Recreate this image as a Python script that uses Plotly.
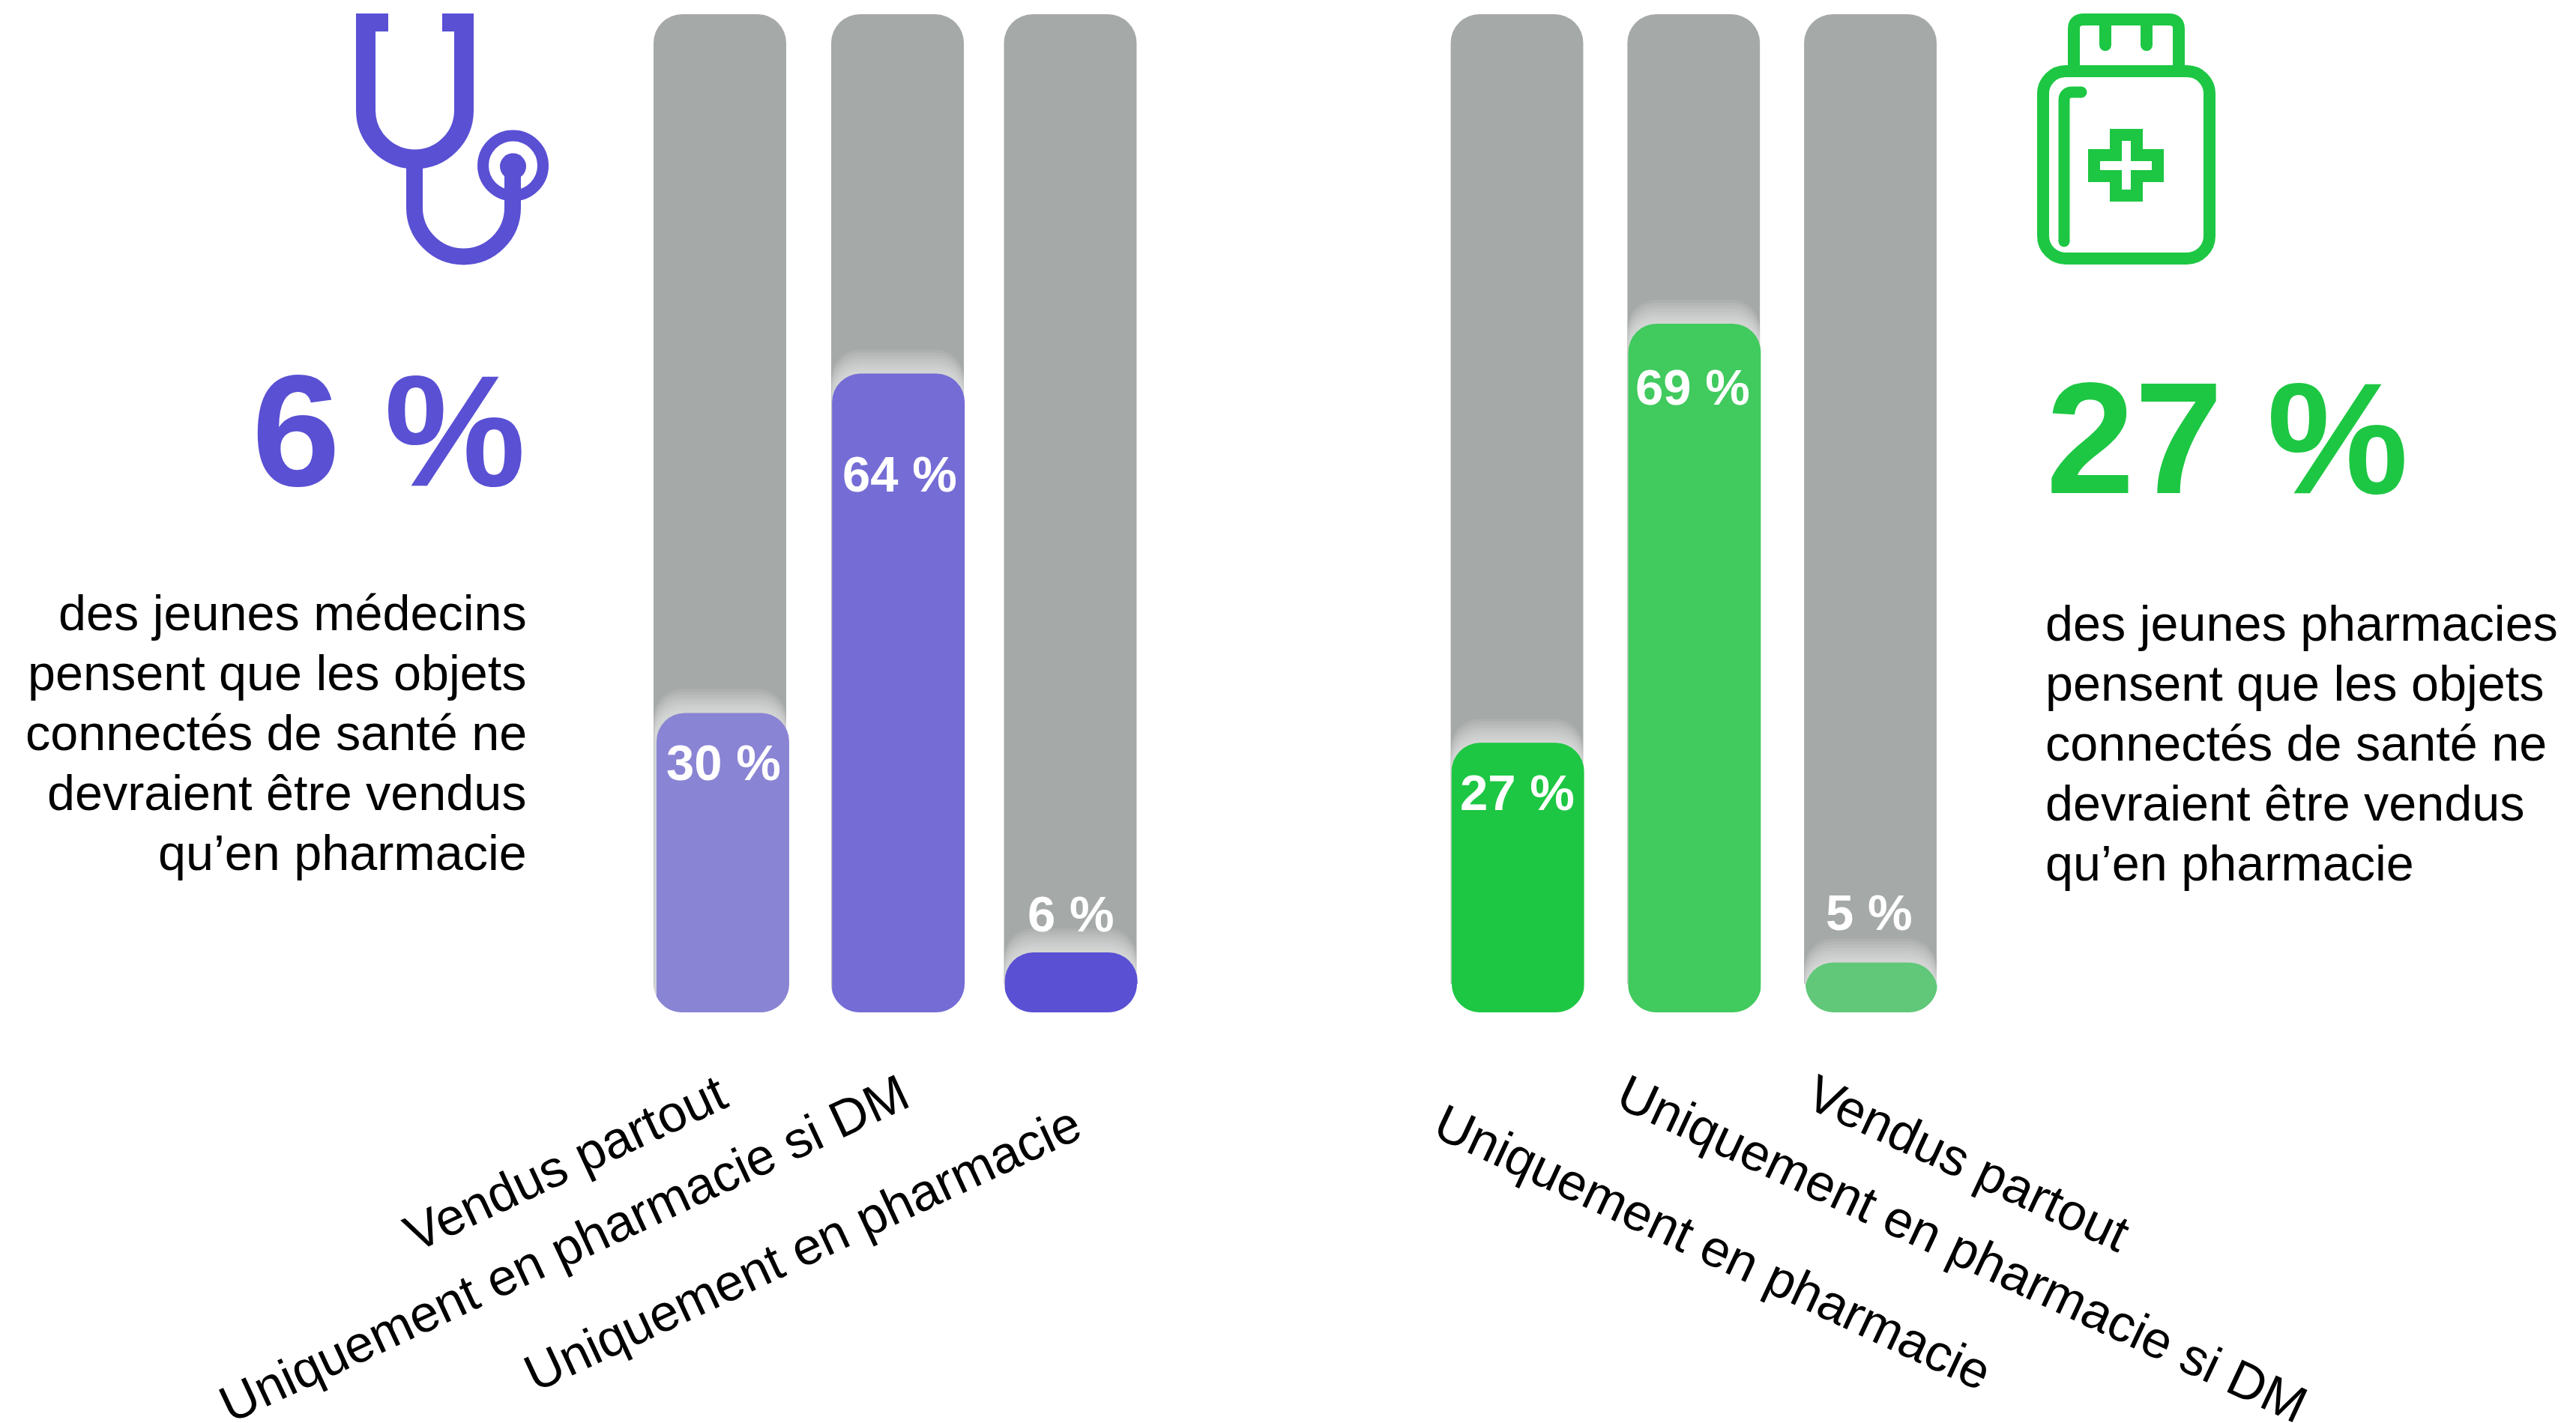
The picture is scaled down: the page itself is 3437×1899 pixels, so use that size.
import plotly.graph_objects as go

W, H = 3437, 1899
categories = ["Vendus partout", "Uniquement en pharmacie si DM", "Uniquement en pharmacie"]
medecins = [30, 64, 6]
pharmaciens = [27, 69, 5]
total = [100, 100, 100]
medecins_colors = ["#8A84D4", "#756DD5", "#5A50D4"]
pharmaciens_colors = ["#1DC743", "#41CA5E", "#60C878"]
GRAY = "#A5A9A7"
PURPLE = "#5A50D4"
GREEN = "#1DC743"
FONT = "Liberation Sans"
left_par = ["des jeunes médecins", "pensent que les objets", "connectés de santé ne", "devraient être vendus", "qu’en pharmacie"]
right_par = ["des jeunes pharmacies", "pensent que les objets", "connectés de santé ne", "devraient être vendus", "qu’en pharmacie"]

Y_TOP, Y_BOT = 19, 1351
RADIUS = 38
def fx(p): return p / W
def fy(p): return 1 - p / H

fig = go.Figure()
PX = 100 / (Y_BOT - Y_TOP)
JIT = 0.0005
for ax, vals, cols, w, off, coff in [
    ("x", medecins, medecins_colors, 0.757, [0, 0.014, 0], [0.012, 0.014, 0.0]),
    ("x2", pharmaciens, pharmaciens_colors, 0.75, [0, 0, 0], [0, 0, 0]),
]:
    fig.add_trace(go.Bar(x=categories, y=total, xaxis=ax, yaxis="y", width=w,
                         offset=[-w / 2 + d for d in off],
                         marker=dict(color=GRAY, cornerradius=RADIUS, line_width=0), hoverinfo="skip"))
    for k, d in enumerate(range(32, 0, -4), start=1):
        fig.add_trace(go.Bar(x=categories, y=[v + d * PX for v in vals], xaxis=ax, yaxis="y", width=w,
                             offset=[-w / 2 + o + k * JIT for o in off],
                             marker=dict(color="rgba(255,255,255,0.09)", cornerradius=RADIUS, line_width=0),
                             hoverinfo="skip"))
    fig.add_trace(go.Bar(x=categories, y=vals, xaxis=ax, yaxis="y", width=w,
                         offset=[-w / 2 + o + 0.005 for o in coff],
                         marker=dict(color=cols, cornerradius=RADIUS, line_width=0)))

shapes = []
def corner(xc, side, r=RADIUS):
    k = 0.5523 * r
    x0 = xc
    x1 = xc + side * r
    ym = Y_BOT + 3
    return dict(type="path", xref="paper", yref="paper", layer="above", line_width=0, fillcolor="white",
                path=(f"M {fx(x0-side*3)} {fy(ym)} L {fx(x1)} {fy(ym)} L {fx(x1)} {fy(Y_BOT)} "
                      f"C {fx(x1-side*k)} {fy(Y_BOT)} {fx(x0)} {fy(Y_BOT-r+k)} {fx(x0)} {fy(Y_BOT-r)} "
                      f"L {fx(x0-side*3)} {fy(Y_BOT-r)} Z"))
for l, r_ in [(872, 1053), (1109, 1287), (1340, 1517), (1937, 2114), (2172, 2350), (2409, 2585)]:
    shapes += [corner(l, 1), corner(r_, -1)]

def pts(coords):
    return " ".join(f"{'M' if i == 0 else 'L'} {fx(x)} {fy(y)}" for i, (x, y) in enumerate(coords))
def stroke(path, color, width):
    shapes.append(dict(type="path", xref="paper", yref="paper", path=path, fillcolor="rgba(0,0,0,0)",
                       line=dict(color=color, width=width), layer="above"))
def fill(path, color):
    shapes.append(dict(type="path", xref="paper", yref="paper", path=path, fillcolor=color, line_width=0, layer="above"))
def curve(p0, c1, c2, p1):
    return f"C {fx(c1[0])} {fy(c1[1])} {fx(c2[0])} {fy(c2[1])} {fx(p1[0])} {fy(p1[1])}"
def circle(cx, cy, r, **kw):
    shapes.append(dict(type="circle", xref="paper", yref="paper", x0=fx(cx - r), x1=fx(cx + r),
                       y0=fy(cy + r), y1=fy(cy - r), layer="above", **kw))
K = 0.5523
def u_path(xl, xr, ytop, ystraight, yend=None):
    r = (xr - xl) / 2
    xc = (xl + xr) / 2
    ye = ytop if yend is None else yend
    return (f"M {fx(xl)} {fy(ytop)} L {fx(xl)} {fy(ystraight)} "
            + curve(None, (xl, ystraight + K * r), (xc - K * r, ystraight + r), (xc, ystraight + r)) + " "
            + curve(None, (xc + K * r, ystraight + r), (xr, ystraight + K * r), (xr, ystraight)) + " "
            + f"L {fx(xr)} {fy(ye)}")

# stethoscope
stroke(u_path(488, 619, 18, 147), PURPLE, 26)
fill(pts([(475, 18), (518, 18), (518, 42), (475, 42)]) + " Z", PURPLE)
fill(pts([(590, 18), (631, 18), (631, 42), (590, 42)]) + " Z", PURPLE)
stroke(u_path(553, 684, 212, 277, 230), PURPLE, 22)
circle(684.5, 221, 40, line=dict(color=PURPLE, width=15), fillcolor="rgba(0,0,0,0)")
circle(684.5, 222, 17.5, line_width=0, fillcolor=PURPLE)

# bottle
def round_rect(x0, y0, x1, y1, r):
    c = K * r
    return (f"M {fx(x0+r)} {fy(y0)} L {fx(x1-r)} {fy(y0)} " + curve(None, (x1-r+c, y0), (x1, y0+r-c), (x1, y0+r))
            + f" L {fx(x1)} {fy(y1-r)} " + curve(None, (x1, y1-r+c), (x1-r+c, y1), (x1-r, y1))
            + f" L {fx(x0+r)} {fy(y1)} " + curve(None, (x0+r-c, y1), (x0, y1-r+c), (x0, y1-r))
            + f" L {fx(x0)} {fy(y0+r)} " + curve(None, (x0, y0+r-c), (x0+r-c, y0), (x0+r, y0)) + " Z")
stroke(round_rect(2726, 95, 2948, 345, 30), GREEN, 16)
stroke(pts([(2767, 95), (2767, 38)]) + " " + curve(None, (2767, 30), (2772, 26), (2780, 26))
       + f" L {fx(2894)} {fy(26)} " + curve(None, (2902, 26), (2907, 30), (2907, 38)) + f" L {fx(2907)} {fy(95)}", GREEN, 16)
stroke(pts([(2809, 26), (2809, 60)]), GREEN, 16)
stroke(pts([(2864, 26), (2864, 60)]), GREEN, 16)
circle(2809, 60, 8, line_width=0, fillcolor=GREEN)
circle(2864, 60, 8, line_width=0, fillcolor=GREEN)
stroke(pts([(2754, 322), (2754, 133)]) + " " + curve(None, (2754, 127), (2758, 123), (2764, 123)) + f" L {fx(2777)} {fy(123)}", GREEN, 15)
circle(2754, 322, 7.5, line_width=0, fillcolor=GREEN)
circle(2777, 123, 7.5, line_width=0, fillcolor=GREEN)
stroke(pts([(2823, 180), (2851, 180), (2851, 207), (2879, 207), (2879, 235), (2851, 235), (2851, 261),
            (2823, 261), (2823, 235), (2794, 235), (2794, 207), (2823, 207)]) + " Z", GREEN, 16)

ann = []
def text(t, x, y, size, color="black", bold=False, anchor="center", angle=0):
    ann.append(dict(text=f"<b>{t}</b>" if bold else t, xref="paper", yref="paper", x=fx(x), y=fy(y),
                    xanchor=anchor, yanchor="middle", showarrow=False, textangle=angle, borderpad=0,
                    font=dict(family=FONT, size=size, color=color)))

text(f"{medecins[2]} %", 702, 574, 212, PURPLE, True, "right")
text(f"{pharmaciens[0]} %", 2729, 585, 212, GREEN, True, "left")
for i, line in enumerate(left_par):
    text(line, 704, 818 + i * 80, 66.5, anchor="right")
for i, line in enumerate(right_par):
    text(line, 2728, 832 + i * 80, 66.5, anchor="left")

for c, x, y in zip(medecins, [965, 1200, 1428], [1017, 632, 1219]):
    text(f"{c} %", x, y, 67, "white", True)
for c, x, y in zip(pharmaciens, [2024, 2258, 2493], [1057, 517, 1217]):
    text(f"{c} %", x, y, 67, "white", True)

for c, x, y in zip(categories, [754, 752, 1070], [1552, 1666, 1666]):
    text(c, x, y, 69, angle=-25)
for c, x, y in zip(categories, [2626, 2618, 2285], [1552, 1666, 1664]):
    text(c, x, y, 69, angle=25)

fig.update_layout(
    width=W, height=H, margin=dict(l=0, r=0, t=0, b=0), barmode="overlay", showlegend=False,
    paper_bgcolor="white", plot_bgcolor="white", font=dict(family=FONT),
    xaxis=dict(domain=[fx(843.6), fx(1544.9)], range=[-0.5, 2.5], visible=False, type="category"),
    xaxis2=dict(domain=[fx(1906.1), fx(2613.4)], range=[-0.5, 2.5], visible=False, type="category", anchor="y"),
    yaxis=dict(domain=[fy(Y_BOT), fy(Y_TOP)], range=[0, 100], visible=False),
    shapes=shapes, annotations=ann,
)
fig.write_html("out.html", config={"displayModeBar": False},
               post_script="document.body.style.margin='0';")
